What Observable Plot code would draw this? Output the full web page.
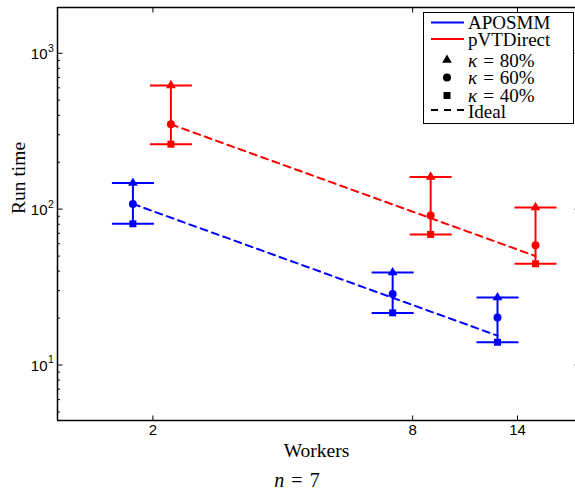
<!DOCTYPE html>
<html>
<head>
<meta charset="utf-8">
<script src="https://cdn.jsdelivr.net/npm/d3@7"></script>
<script src="https://cdn.jsdelivr.net/npm/@observablehq/plot@0.6"></script>
<style>
  html, body { margin: 0; padding: 0; background: #fff; overflow: hidden; }
  #chart { width: 575px; height: 491px; overflow: hidden; }
  #chart svg { max-width: none !important; display: block; }
</style>
</head>
<body>
<div id="chart"></div>
<script>
// Worker counts on the x axis
const workers = [2, 8, 14];

// Solvers
const seriesNames = ["APOSMM", "pVTDirect"];
const seriesColors = ["#0000ff", "#ff0000"];

// Run times at kappa = 80% / 60% / 40%
const aposmm80 = [147, 39.2, 27.1];
const aposmm60 = [108, 28.6, 20.2];
const aposmm40 = [80.5, 21.6, 14.0];
const pvt80 = [622, 161, 102.5];
const pvt60 = [350, 91, 58.7];
const pvt40 = [261, 68.8, 44.6];

// Axis ticks and legend text
const yTickValues = [10, 100, 1000];
const kappaLabels = ["80%", "60%", "40%"];
const idealLabel = "Ideal";

// Scales
const xDomain = [1.202, 19.7];
const yDomain = [4.406, 1966];

// Horizontal pixel shift of each solver's bars around the shared tick
const seriesShift = [-20, 18];

const highs = [aposmm80, pvt80];
const mids = [aposmm60, pvt60];
const lows = [aposmm40, pvt40];

// Per-series table; "ideal" is linear speedup from the 60% run at the smallest worker count
const rows = seriesNames.map((name, s) => workers.map((w, i) => ({
  name,
  workers: w,
  hi: highs[s][i],
  mid: mids[s][i],
  lo: lows[s][i],
  ideal: mids[s][0] * workers[0] / w
})));

// Minor log ticks for the y axis
const minorTicks = [];
for (const dec of [1, 10, 100, 1000]) {
  for (let k = 2; k <= 9; k++) {
    const v = k * dec;
    if (v >= yDomain[0] && v <= yDomain[1]) minorTicks.push(v);
  }
}

// Custom symbols: error-bar caps and inward tick marks
const capSymbol = { draw(ctx) { ctx.moveTo(-21, 0); ctx.lineTo(21, 0); } };
const hTick = len => ({ draw(ctx) { ctx.moveTo(0, 0); ctx.lineTo(len, 0); } });
const vTick = len => ({ draw(ctx) { ctx.moveTo(0, 0); ctx.lineTo(0, len); } });

const serif = "Liberation Serif, Times New Roman, serif";
const triR = 3.6, dotR = 4, sqR = 3.95;

const seriesMarks = seriesNames.flatMap((name, s) => {
  const data = rows[s];
  const color = seriesColors[s];
  const dx = seriesShift[s];
  return [
    Plot.line(data, {x: "workers", y: "ideal", stroke: color, strokeWidth: 2, strokeDasharray: "7,5", dx}),
    Plot.ruleX(data, {x: "workers", y1: "lo", y2: "hi", stroke: color, strokeWidth: 2, dx}),
    Plot.dot(data, {x: "workers", y: "hi", symbol: capSymbol, stroke: color, fill: "none", strokeWidth: 2, dx}),
    Plot.dot(data, {x: "workers", y: "lo", symbol: capSymbol, stroke: color, fill: "none", strokeWidth: 2, dx}),
    Plot.dot(data, {x: "workers", y: "hi", symbol: "triangle", r: triR, fill: color, stroke: "none", dx}),
    Plot.dot(data, {x: "workers", y: "mid", symbol: "circle", r: dotR, fill: color, stroke: "none", dx}),
    Plot.dot(data, {x: "workers", y: "lo", symbol: "square", r: sqR, fill: color, stroke: "none", dx})
  ];
});

const plot = Plot.plot({
  width: 581,
  height: 491,
  marginLeft: 57,
  marginRight: 0,
  marginTop: 7,
  marginBottom: 71,
  x: {type: "log", domain: xDomain, axis: null},
  y: {type: "log", domain: yDomain, axis: null},
  style: {fontFamily: "Liberation Sans, Arial, sans-serif", fontSize: "15px", background: "white", overflow: "visible"},
  marks: [
    // axes box (left, bottom, top)
    Plot.ruleX([xDomain[0]], {stroke: "black", strokeWidth: 1.5}),
    Plot.ruleY([yDomain[0]], {stroke: "black", strokeWidth: 1.5}),
    Plot.ruleY([yDomain[1]], {stroke: "black", strokeWidth: 1.5}),
    // inward ticks
    Plot.dot(yTickValues, {y: d => d, frameAnchor: "left", symbol: hTick(5), stroke: "black", fill: "none", strokeWidth: 1}),
    Plot.dot(minorTicks, {y: d => d, frameAnchor: "left", symbol: hTick(2.5), stroke: "black", fill: "none", strokeWidth: 1}),
    Plot.dot(yTickValues, {y: d => d, frameAnchor: "right", symbol: hTick(-7), stroke: "black", fill: "none", strokeWidth: 1}),
    Plot.dot(workers, {x: d => d, frameAnchor: "bottom", symbol: vTick(-5), stroke: "black", fill: "none", strokeWidth: 1}),
    Plot.dot(workers, {x: d => d, frameAnchor: "top", symbol: vTick(5), stroke: "black", fill: "none", strokeWidth: 1}),
    // tick labels
    Plot.text(workers, {x: d => d, frameAnchor: "bottom", dy: 14, text: d => String(d), fontSize: 15, fill: "black"}),
    Plot.text(yTickValues, {y: d => d, frameAnchor: "left", text: () => "10", textAnchor: "end", dx: -10, dy: 1, fontSize: 15, fill: "black"}),
    Plot.text(yTickValues, {y: d => d, frameAnchor: "left", text: d => String(Math.round(Math.log10(d))), textAnchor: "start", dx: -9.5, dy: -5, fontSize: 10.5, fill: "black"}),
    // axis titles
    Plot.text(["Run time"], {frameAnchor: "left", dx: -39, rotate: -90, fontFamily: serif, fontSize: 19.5, fill: "black"}),
    Plot.text(["Workers"], {frameAnchor: "bottom", dy: 36, dx: -3, fontFamily: serif, fontSize: 19.5, fill: "black"}),
    ...seriesMarks
  ]
});

const svg = d3.select(plot);

// Legend box in the upper-right corner
const lg = svg.append("g").attr("font-family", serif).attr("font-size", 19)
  .attr("fill", "black").attr("text-anchor", "start");
lg.append("rect").attr("x", 423.5).attr("y", 12.5).attr("width", 150).attr("height", 111)
  .attr("fill", "white").attr("stroke", "black").attr("stroke-width", 1);

const lx0 = 431, lx1 = 464, tx = 468, mx = 447;
seriesNames.forEach((name, s) => {
  const yy = [22.5, 39][s];
  lg.append("line").attr("x1", lx0).attr("x2", lx1).attr("y1", yy).attr("y2", yy)
    .attr("stroke", seriesColors[s]).attr("stroke-width", 2);
  lg.append("text").attr("x", tx).attr("y", yy + 6.5).text(name);
});

const legendSymbols = [
  [d3.symbolTriangle, triR * triR * Math.PI],
  [d3.symbolCircle, dotR * dotR * Math.PI],
  [d3.symbolSquare, sqR * sqR * Math.PI]
];
const kappaY = [60, 77.5, 95.5];
kappaLabels.forEach((lab, k) => {
  const yy = kappaY[k];
  lg.append("path").attr("transform", `translate(${mx},${yy})`)
    .attr("d", d3.symbol(legendSymbols[k][0], legendSymbols[k][1])()).attr("fill", "black");
  const t = lg.append("text").attr("x", tx).attr("y", yy + 6.5);
  t.append("tspan").attr("font-style", "italic").text("κ");
  t.append("tspan").attr("dx", 6).text("=");
  t.append("tspan").attr("dx", 6).text(lab);
});

lg.append("line").attr("x1", lx0).attr("x2", lx1).attr("y1", 110).attr("y2", 110)
  .attr("stroke", "black").attr("stroke-width", 2).attr("stroke-dasharray", "7,6");
lg.append("text").attr("x", tx).attr("y", 117.5).text(idealLabel);

// Sub-figure caption
const cap = svg.append("text").attr("x", 297).attr("y", 487).attr("text-anchor", "middle")
  .attr("font-family", serif).attr("font-size", 20).attr("fill", "black");
cap.append("tspan").attr("font-style", "italic").text("n");
cap.append("tspan").attr("dx", 7).text("=");
cap.append("tspan").attr("dx", 7).text("7");

document.getElementById("chart").appendChild(plot);
</script>
</body>
</html>
